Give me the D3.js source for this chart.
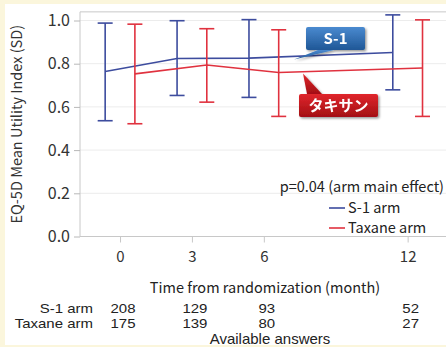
<!DOCTYPE html>
<html>
<head>
<meta charset="utf-8">
<script src="https://cdn.jsdelivr.net/npm/d3@7"></script>
<style>
  html, body { margin: 0; padding: 0; background: #fbf6dc; }
  svg { display: block; font-family: "Noto Sans CJK JP", "Noto Sans", sans-serif; }
</style>
</head>
<body>
<div id="chart"></div>
<script>
(function(){
  // chart size
  const width = 446;
  const height = 347;

  // data
  const months = [0, 3, 6, 12];
  const s1Mean = [0.764, 0.824, 0.826, 0.852];
  const s1Upper = [0.988, 0.999, 1.004, 1.026];
  const s1Lower = [0.536, 0.653, 0.644, 0.679];
  const taxMean = [0.753, 0.794, 0.759, 0.780];
  const taxUpper = [0.983, 0.962, 0.957, 1.003];
  const taxLower = [0.522, 0.622, 0.556, 0.556];
  const s1Answers = [208, 129, 93, 52];
  const taxAnswers = [175, 139, 80, 27];
  const yTicks = [0, 0.2, 0.4, 0.6, 0.8, 1.0];

  const blue = "#3d4c9e";
  const red = "#e0323f";

  const series = [
    { name: "S-1 arm", color: blue, dodge: -0.62, mean: s1Mean, upper: s1Upper, lower: s1Lower },
    { name: "Taxane arm", color: red, dodge: 0.62, mean: taxMean, upper: taxUpper, lower: taxLower }
  ];

  const svg = d3.select("#chart").append("svg")
    .attr("width", width)
    .attr("height", height);

  // white panel on the yellow page
  svg.append("rect")
    .attr("x", 5).attr("y", 4)
    .attr("width", width - 5).attr("height", 341)
    .attr("fill", "#ffffff");

  const x = d3.scaleLinear().domain([-1.67, 13.6]).range([80, 446]);
  const y = d3.scaleLinear().domain([0, 1]).range([236.5, 20.5]);
  const plotTop = y(1.04);

  // gridlines
  svg.append("g").selectAll("line")
    .data(yTicks.slice(1))
    .join("line")
    .attr("x1", x.range()[0]).attr("x2", x.range()[1])
    .attr("y1", d => y(d)).attr("y2", d => y(d))
    .attr("stroke", "#ececec");

  // frame
  svg.append("path")
    .attr("d", `M${x.range()[1]},${plotTop}H${x.range()[0]}V${y(0)}H${x.range()[1]}`)
    .attr("fill", "none")
    .attr("stroke", "#c8c8c8");

  // y axis
  const yAxis = svg.append("g")
    .attr("transform", `translate(${x.range()[0]},0)`)
    .call(d3.axisLeft(y).tickValues(yTicks).tickFormat(d3.format(".1f")).tickSize(6).tickPadding(4));
  yAxis.select(".domain").remove();
  yAxis.selectAll("line").attr("stroke", "#b8b8b8");
  yAxis.selectAll("text").attr("font-size", 16).attr("fill", "#333")
    .attr("font-family", "'Noto Sans CJK JP', sans-serif");

  // x axis
  const xAxis = svg.append("g")
    .attr("transform", `translate(0,${y(0)})`)
    .call(d3.axisBottom(x).tickValues(months).tickSize(6).tickPadding(9));
  xAxis.select(".domain").remove();
  xAxis.selectAll("line").attr("stroke", "#c8c8c8");
  xAxis.selectAll("text").attr("font-size", 15).attr("fill", "#333")
    .attr("font-family", "'Noto Sans CJK JP', sans-serif");

  // axis titles
  svg.append("text")
    .attr("transform", `translate(22,${(y(0) + plotTop) / 2}) rotate(-90)`)
    .attr("text-anchor", "middle")
    .attr("font-size", 14.5)
    .attr("fill", "#333")
    .text("EQ-5D Mean Utility Index (SD)");

  svg.append("text")
    .attr("x", 265).attr("y", 293)
    .attr("text-anchor", "middle")
    .attr("font-size", 14.5)
    .attr("fill", "#222")
    .text("Time from randomization (month)");

  // error bars and mean lines
  const line = d3.line()
    .x(d => x(d.t))
    .y(d => y(d.v));

  series.forEach(s => {
    const pts = months.map((m, i) => ({ t: m + s.dodge, v: s.mean[i], hi: s.upper[i], lo: s.lower[i] }));
    const g = svg.append("g").attr("stroke", s.color).attr("stroke-width", 1.6).attr("fill", "none");
    g.selectAll("line.bar")
      .data(pts)
      .join("line")
      .attr("class", "bar")
      .attr("x1", d => x(d.t)).attr("x2", d => x(d.t))
      .attr("y1", d => y(d.hi)).attr("y2", d => y(d.lo));
    g.selectAll("line.capHi")
      .data(pts)
      .join("line")
      .attr("class", "capHi")
      .attr("x1", d => x(d.t) - 7.5).attr("x2", d => x(d.t) + 7.5)
      .attr("y1", d => y(d.hi)).attr("y2", d => y(d.hi));
    g.selectAll("line.capLo")
      .data(pts)
      .join("line")
      .attr("class", "capLo")
      .attr("x1", d => x(d.t) - 7.5).attr("x2", d => x(d.t) + 7.5)
      .attr("y1", d => y(d.lo)).attr("y2", d => y(d.lo));
    g.append("path").attr("d", line(pts));
  });

  // legend
  svg.append("text")
    .attr("x", 444).attr("y", 192)
    .attr("text-anchor", "end")
    .attr("font-size", 14.5)
    .attr("fill", "#222")
    .text("p=0.04 (arm main effect)");

  const legend = svg.append("g").selectAll("g")
    .data(series)
    .join("g")
    .attr("transform", (d, i) => `translate(329,${208 + i * 20})`);
  legend.append("line")
    .attr("x1", 0).attr("x2", 16)
    .attr("stroke", d => d.color).attr("stroke-width", 1.6);
  legend.append("text")
    .attr("x", 19).attr("y", 5)
    .attr("font-size", 14.5)
    .attr("fill", "#222")
    .text(d => d.name);

  // callouts
  const defs = svg.append("defs");
  const gb = defs.append("linearGradient").attr("id", "gBlue").attr("x1", 0).attr("y1", 0).attr("x2", 0).attr("y2", 1);
  gb.append("stop").attr("offset", 0).attr("stop-color", "#4a8ad0");
  gb.append("stop").attr("offset", 1).attr("stop-color", "#1f5796");
  const gr = defs.append("linearGradient").attr("id", "gRed").attr("x1", 0).attr("y1", 0).attr("x2", 0).attr("y2", 1);
  gr.append("stop").attr("offset", 0).attr("stop-color", "#e0262c");
  gr.append("stop").attr("offset", 1).attr("stop-color", "#a30f14");
  const sh = defs.append("filter").attr("id", "shadow").attr("x", -0.2).attr("y", -0.3).attr("width", 1.5).attr("height", 1.8);
  sh.append("feDropShadow").attr("dx", 1.5).attr("dy", 1.5).attr("stdDeviation", 1.2).attr("flood-color", "#000").attr("flood-opacity", 0.4);

  const callouts = [
    { label: "S-1", fill: "url(#gBlue)", box: [306, 27, 59, 23], tail: [[318, 50], [334, 50], [294, y(s1Mean[1]) + 1]] },
    { label: "タキサン", fill: "url(#gRed)", box: [299, 94, 79, 23], tail: [[307, 94], [322, 94], [303, y(taxMean[2]) + 1]] }
  ];
  const cg = svg.append("g").selectAll("g")
    .data(callouts)
    .join("g")
    .attr("filter", "url(#shadow)");
  cg.append("path")
    .attr("d", d => `M${d.tail[0]}L${d.tail[1]}L${d.tail[2]}Z`)
    .attr("fill", d => d.fill);
  cg.append("rect")
    .attr("x", d => d.box[0]).attr("y", d => d.box[1])
    .attr("width", d => d.box[2]).attr("height", d => d.box[3])
    .attr("rx", 2)
    .attr("fill", d => d.fill);
  cg.append("text")
    .attr("x", d => d.box[0] + d.box[2] / 2)
    .attr("y", d => d.box[1] + d.box[3] / 2 + 5.5)
    .attr("text-anchor", "middle")
    .attr("font-size", 15)
    .attr("font-weight", "bold")
    .attr("fill", "#fff")
    .text(d => d.label);

  // number of available answers table (rows are squeezed vertically as in the source)
  const rows = [
    { name: "S-1 arm", values: s1Answers },
    { name: "Taxane arm", values: taxAnswers }
  ];
  const rg = svg.append("g").selectAll("g")
    .data(rows)
    .join("g")
    .attr("transform", (d, i) => `translate(0,${313 + i * 14.5}) scale(1,0.88)`)
    .attr("font-family", "'Liberation Sans', Arial, sans-serif");
  rg.append("text")
    .attr("x", 93)
    .attr("text-anchor", "end")
    .attr("font-size", 15)
    .attr("fill", "#222")
    .text(d => d.name);
  rg.selectAll("text.num")
    .data(d => d.values.map((v, i) => ({ v, t: months[i] })))
    .join("text")
    .attr("class", "num")
    .attr("x", d => x(d.t) + 3)
    .attr("text-anchor", "middle")
    .attr("font-size", 15)
    .attr("fill", "#222")
    .text(d => d.v);

  svg.append("text")
    .attr("x", 270).attr("y", 344)
    .attr("text-anchor", "middle")
    .attr("font-family", "'Liberation Sans', Arial, sans-serif")
    .attr("font-size", 15)
    .attr("fill", "#222")
    .text("Available answers");
})();
</script>
</body>
</html>
